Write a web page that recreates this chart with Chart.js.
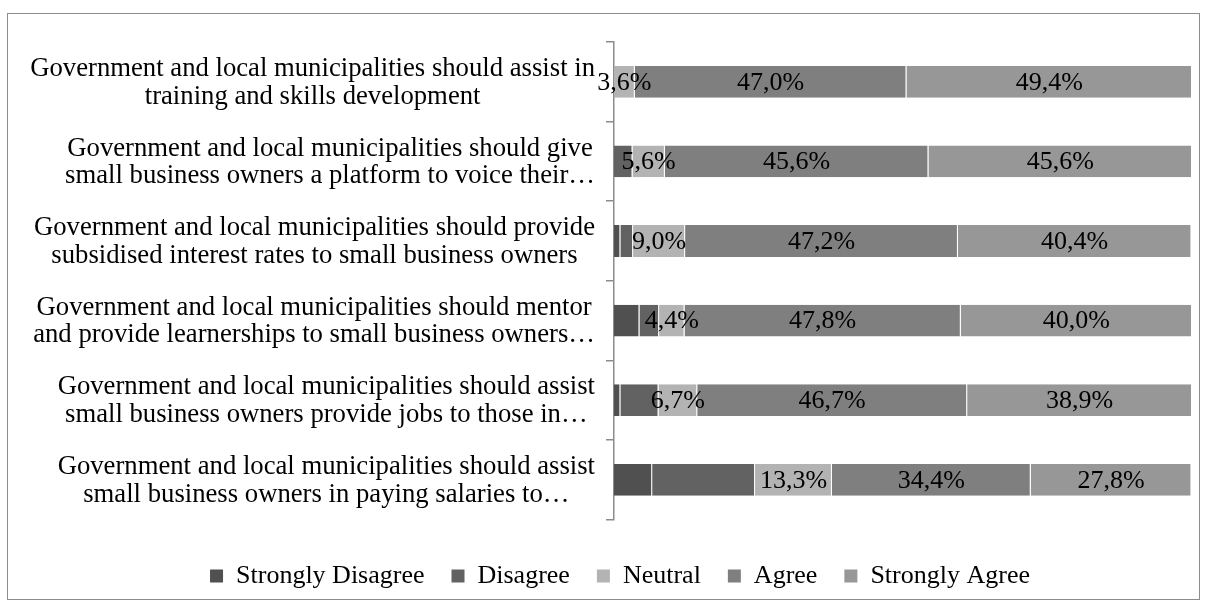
<!DOCTYPE html>
<html>
<head>
<meta charset="utf-8">
<title>Support from government</title>
<script src="https://cdn.jsdelivr.net/npm/chart.js@4.4.1/dist/chart.umd.min.js"></script>
<style>
  html, body { margin: 0; padding: 0; background: #fff; }
  #frame {
    position: absolute; left: 7px; top: 13px;
    width: 1193px; height: 587px;
    border: 1px solid #8c8c8c; box-sizing: border-box;
  }
</style>
</head>
<body>
<div id="frame"><canvas id="chart"></canvas></div>
<script>
/* labels, one line per entry */
var categories = [
  ["Government and local municipalities should assist in", "training and skills development"],
  ["Government and local municipalities should give", "small business owners a platform to voice their\u2026"],
  ["Government and local municipalities should provide", "subsidised interest rates to small business owners"],
  ["Government and local municipalities should mentor", "and provide learnerships to small business owners\u2026"],
  ["Government and local municipalities should assist", "small business owners provide jobs to those in\u2026"],
  ["Government and local municipalities should assist", "small business owners in paying salaries to\u2026"]
];

var seriesNames = ["Strongly Disagree", "Disagree", "Neutral", "Agree", "Strongly Agree"];

// percentages
var stronglyDisagree = [0, 0, 1.1, 4.4, 1.1, 6.6];
var disagree         = [0, 3.2, 2.2, 3.4, 6.6, 17.8];
var neutral          = [3.6, 5.6, 9.0, 4.4, 6.7, 13.3];
var agree            = [47.0, 45.6, 47.2, 47.8, 46.7, 34.4];
var stronglyAgree    = [49.4, 45.6, 40.4, 40.0, 38.9, 27.8];

var colors = ["#505050", "#626262", "#b3b3b3", "#7f7f7f", "#979797"];
var FONT = '"Liberation Serif", "Times New Roman", serif';

/* only these series carry value labels in the original */
var labelled = [false, false, true, true, true];

var valueLabels = {
  id: 'valueLabels',
  afterDatasetsDraw: function(chart) {
    var ctx = chart.ctx;
    ctx.save();
    ctx.font = '26px ' + FONT;
    ctx.fillStyle = '#000';
    ctx.textAlign = 'center';
    ctx.textBaseline = 'middle';
    chart.data.datasets.forEach(function(ds, i) {
      if (!labelled[i]) return;
      chart.getDatasetMeta(i).data.forEach(function(bar, j) {
        var v = ds.data[j];
        if (!v) return;
        var c = bar.getCenterPoint();
        ctx.fillText(v.toFixed(1).replace('.', ',') + '%', c.x, c.y + 1);
      });
    });
    ctx.restore();
  }
};

/* category labels: block right aligned to the axis, lines centred in the block */
var categoryLabels = {
  id: 'categoryLabels',
  afterDraw: function(chart) {
    var ctx = chart.ctx;
    var scale = chart.scales.y;
    var lineH = 27.5;
    ctx.save();
    ctx.font = '26.7px ' + FONT;
    ctx.fillStyle = '#000';
    ctx.textAlign = 'center';
    ctx.textBaseline = 'middle';
    categories.forEach(function(lines, i) {
      var y = scale.getPixelForTick(i);
      var w = 0;
      lines.forEach(function(l) { w = Math.max(w, ctx.measureText(l).width); });
      var cx = scale.right - 19 - w / 2;
      lines.forEach(function(l, k) {
        ctx.fillText(l, cx, y + 1 + (k - (lines.length - 1) / 2) * lineH);
      });
    });
    ctx.restore();
  }
};

var series = [stronglyDisagree, disagree, neutral, agree, stronglyAgree];

new Chart(document.getElementById('chart'), {
  type: 'bar',
  data: {
    labels: categories,
    datasets: series.map(function(d, i) {
      return {
        label: seriesNames[i],
        data: d,
        backgroundColor: colors[i],
        borderColor: 'rgba(255,255,255,0.7)',
        borderWidth: { top: 0, bottom: 0, left: 0, right: 1 },
        borderSkipped: false,
        categoryPercentage: 1,
        barPercentage: 0.4
      };
    })
  },
  options: {
    indexAxis: 'y',
    responsive: true,
    maintainAspectRatio: false,
    animation: false,
    layout: { padding: { left: 40, right: 7, top: 28, bottom: 0 } },
    scales: {
      x: { stacked: true, display: false, min: 0, max: 100 },
      y: {
        stacked: true,
        afterFit: function(scale) { scale.width = 566; },
        ticks: { color: 'rgba(0,0,0,0)', autoSkip: false, font: { family: FONT, size: 12 } },
        grid: { display: true, drawOnChartArea: false, drawTicks: true, tickLength: 8,
                color: '#8c8c8c', lineWidth: 1.5, offset: true },
        border: { display: true, color: '#8c8c8c', width: 1.5 }
      }
    },
    plugins: {
      tooltip: { enabled: false },
      legend: {
        position: 'bottom',
        title: { display: true, text: ' ', padding: { top: 2, bottom: 0 }, font: { size: 12, lineHeight: 1.2 } },
        labels: {
          color: '#000',
          font: { family: FONT, size: 26 },
          boxWidth: 13,
          boxHeight: 13,
          padding: 27,
          generateLabels: function() {
            return seriesNames.map(function(n, i) {
              return { text: n, fillStyle: colors[i], strokeStyle: colors[i], lineWidth: 0,
                       fontColor: '#000', datasetIndex: i };
            });
          }
        }
      }
    }
  },
  plugins: [valueLabels, categoryLabels]
});
</script>
</body>
</html>
